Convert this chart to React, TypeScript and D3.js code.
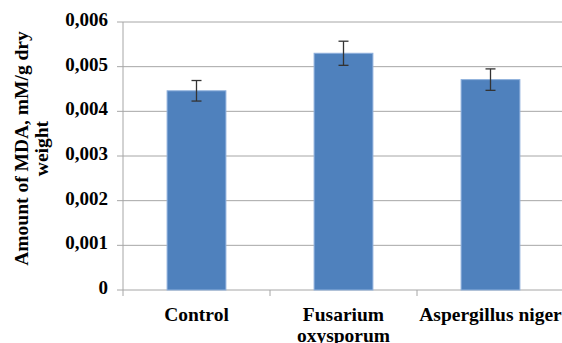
import React from 'react';
import * as d3 from 'd3';

const categories = ['Control', 'Fusarium oxysporum', 'Aspergillus niger'];
const labelLines = [['Control'], ['Fusarium', 'oxysporum'], ['Aspergillus niger']];
const values = [0.00446, 0.0053, 0.00471];
const errors = [0.00023, 0.00027, 0.00024];
const yTicks = [0, 0.001, 0.002, 0.003, 0.004, 0.005, 0.006];

const width = 562;
const height = 343;
const margin = { top: 22, right: -2, bottom: 53, left: 123 };

export default function App() {
  const innerW = width - margin.left - margin.right;
  const innerH = height - margin.top - margin.bottom;

  const x = d3.scaleBand().domain(categories).range([0, innerW]).paddingInner(0.6).paddingOuter(0.3);
  const xOuter = d3.scaleBand().domain(categories).range([0, innerW]);
  const y = d3.scaleLinear().domain([0, 0.006]).range([innerH, 0]);
  const fmt = (d: number) => (d === 0 ? '0' : d3.format('.3f')(d).replace('.', ','));
  const font = { fontFamily: "'Liberation Serif', 'Times New Roman', serif", fontWeight: 700, fontSize: 19.5 };

  return (
    <svg width={width} height={height} style={{ position: 'absolute', left: 0, top: 0, background: '#fff' }}>
      <g transform={`translate(${margin.left},${margin.top})`}>
        {yTicks.map(t => (
          <g key={t}>
            <line x1={-6} x2={innerW} y1={y(t)} y2={y(t)} stroke="#a6a6a6" strokeWidth={1} />
            <text x={-15} y={y(t) + 4} textAnchor="end" style={{ ...font, fontSize: 19 }}>
              {fmt(t)}
            </text>
          </g>
        ))}
        <line x1={0} x2={0} y1={0} y2={innerH} stroke="#a6a6a6" />
        {categories.map(c => (
          <line key={c} x1={xOuter(c)!} x2={xOuter(c)!} y1={innerH} y2={innerH + 6} stroke="#a6a6a6" />
        ))}
        <line x1={innerW} x2={innerW} y1={innerH} y2={innerH + 6} stroke="#a6a6a6" />
        {categories.map((c, i) => {
          const cx = x(c)! + x.bandwidth() / 2;
          return (
            <g key={c}>
              <rect x={x(c)!} y={y(values[i])} width={x.bandwidth()} height={innerH - y(values[i])}
                fill="#4f81bd" stroke="#8eb0dc" strokeWidth={1} />
              <line x1={cx} x2={cx} y1={y(values[i] + errors[i])} y2={y(values[i] - errors[i])} stroke="#333" strokeWidth={1.3} />
              <line x1={cx - 5} x2={cx + 5} y1={y(values[i] + errors[i])} y2={y(values[i] + errors[i])} stroke="#333" strokeWidth={1.3} />
              <line x1={cx - 5} x2={cx + 5} y1={y(values[i] - errors[i])} y2={y(values[i] - errors[i])} stroke="#333" strokeWidth={1.3} />
              {labelLines[i].map((l, j) => (
                <text key={l} x={cx} y={innerH + 30.5 + j * 21} textAnchor="middle" style={font}>
                  {l}
                </text>
              ))}
            </g>
          );
        })}
      </g>
      <g transform="translate(28,148.5) rotate(-90)">
        <text x={0} y={0} textAnchor="middle" style={font}>Amount of MDA, mM/g dry</text>
        <text x={0} y={19.5} textAnchor="middle" style={font}>weight</text>
      </g>
    </svg>
  );
}
